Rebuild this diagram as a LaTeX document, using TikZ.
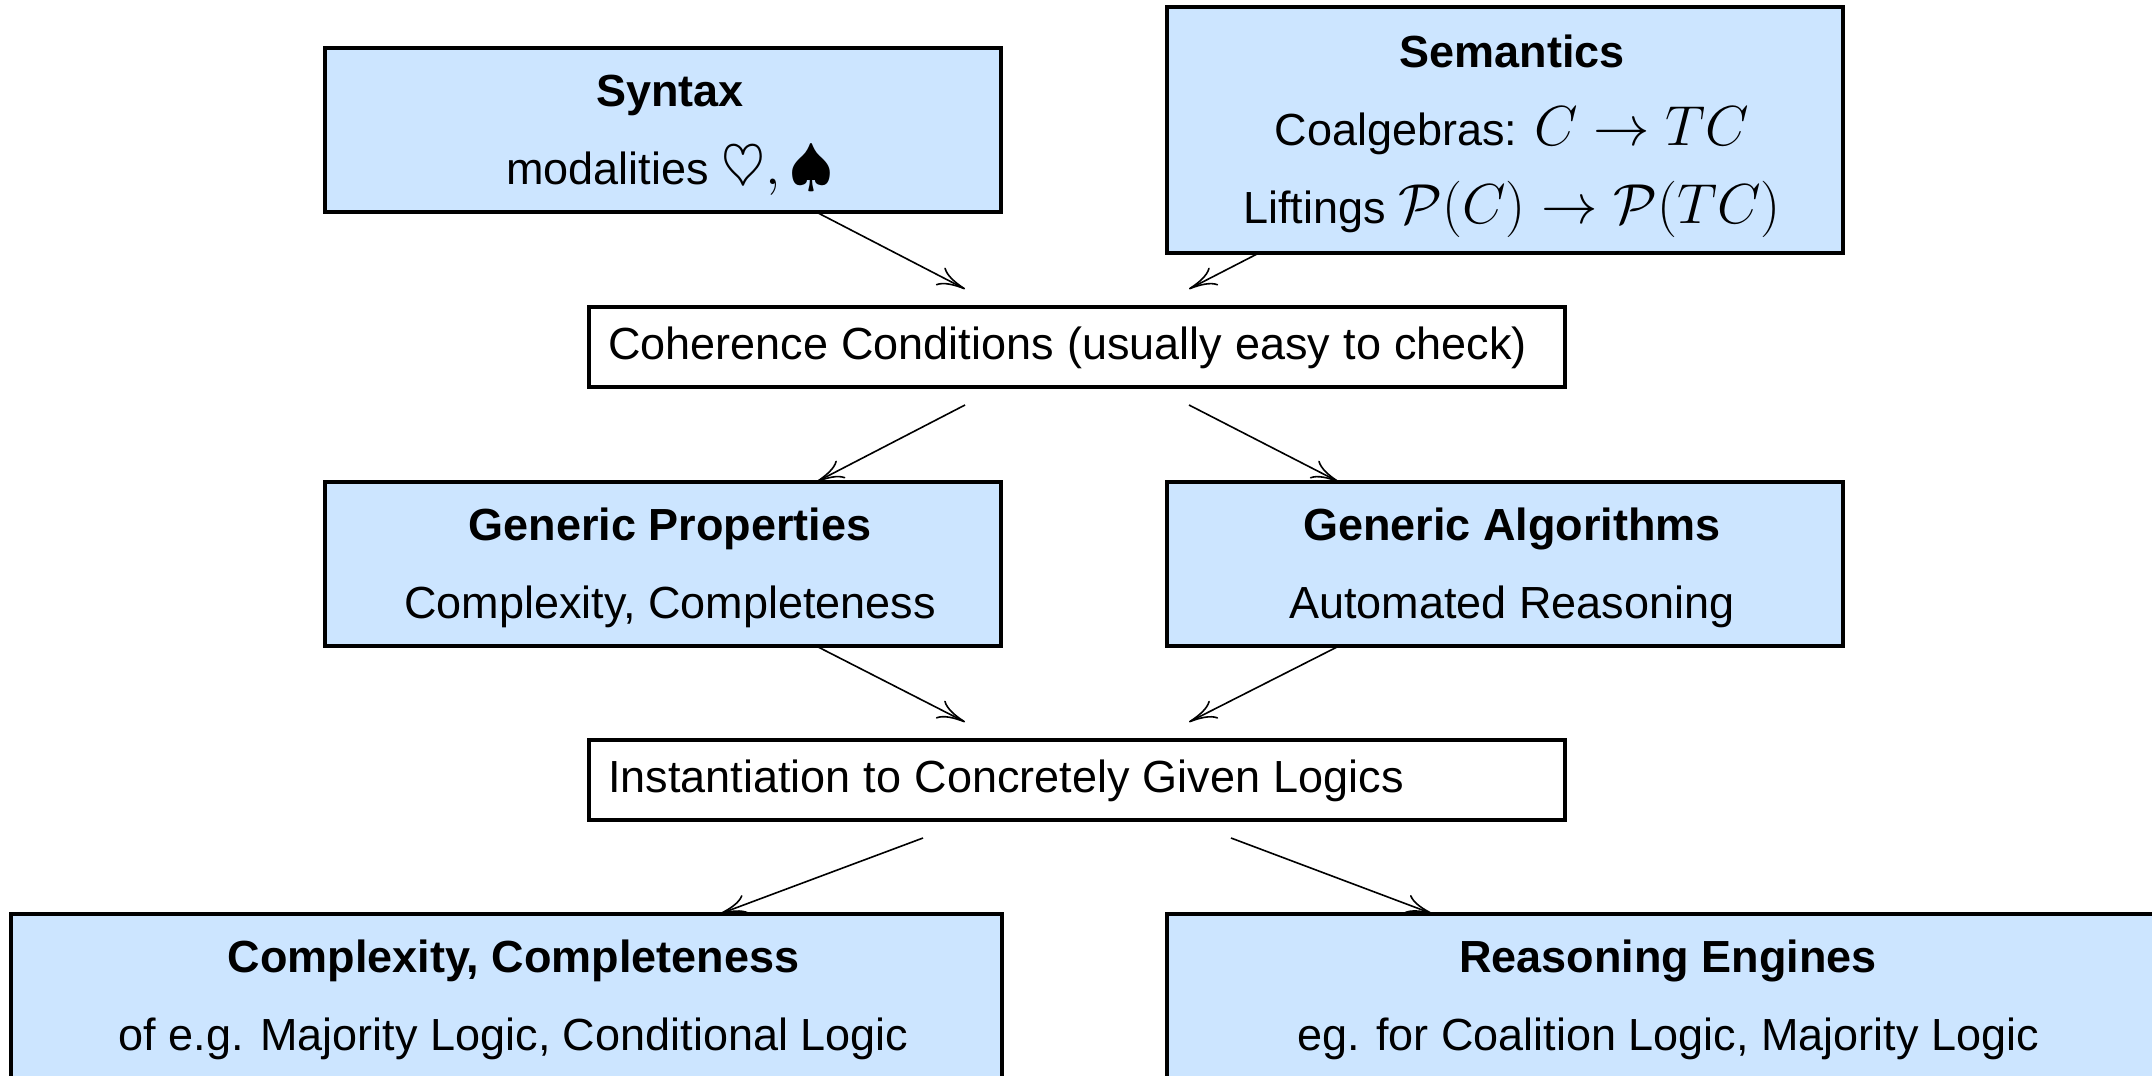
\documentclass[tikz,border=0pt]{standalone}
\usepackage{fix-cm}
\usepackage{fontspec}
\setmainfont{Liberation Sans}
\usetikzlibrary{arrows.meta}
\definecolor{boxblue}{HTML}{CCE5FF}
\newcommand{\boxlines}[1]{\hspace*{7pt}\begin{tabular}{@{}c@{}}#1\end{tabular}}
\newcommand{\stepline}[1]{\mbox{\spaceskip=6.6pt\relax\rule[-5pt]{0pt}{22pt}#1}}
\newcommand{\bigmath}[1]{{\fontsize{28.2}{39}\selectfont$#1$}}
\tikzset{
  boxbase/.style={draw=black, line width=2.2pt, outer sep=0pt, inner sep=0pt,
    font=\fontsize{22.5}{39}\selectfont},
  topicbox/.style={boxbase, fill=boxblue, anchor=north west, minimum width=338pt},
  stepbox/.style={boxbase, fill=white, align=left, anchor=north west, inner xsep=9.5pt,
    minimum height=40pt, text width=469pt},
  flow/.style={line width=.8pt, -{Computer Modern Rightarrow[length=14pt, width=10pt]}}
}
\begin{document}
\begin{tikzpicture}[x=.5pt, y=-.5pt]
        \useasboundingbox (0, 0) rectangle (2152, 1076);
        % node
        \node[topicbox, minimum height=82pt] (syntax) at (325, 48) {\boxlines{\textbf{Syntax}\\modalities \bigmath{\heartsuit, \spadesuit}}};
        \node[topicbox, minimum height=123pt] (semantics) at (1167, 7) {\boxlines{\textbf{Semantics}\\Coalgebras: \bigmath{C \to TC}\\Liftings \bigmath{\mathcal{P}(C) \to \mathcal{P}(TC)}}};
        \node[stepbox] (coherence) at (589, 307) {\stepline{Coherence Conditions (usually easy to check)}};
        \node[topicbox, minimum height=82pt] (genprop) at (325, 482) {\boxlines{\textbf{Generic Properties}\\Complexity, Completeness}};
        \node[topicbox, minimum height=82pt] (genalg) at (1167, 482) {\boxlines{\textbf{Generic Algorithms}\\Automated Reasoning}};
        \node[stepbox] (instant) at (589, 740) {\stepline{Instantiation to Concretely Given Logics}};
        \node[topicbox, minimum height=82pt, minimum width=495.5pt] (complexity) at (11, 914) {\boxlines{\textbf{Complexity, Completeness}\\of e.g. Majority Logic, Conditional Logic}};
        \node[topicbox, minimum height=82pt, minimum width=494pt] (engines) at (1167, 914) {\boxlines{\textbf{Reasoning Engines}\\eg. for Coalition Logic, Majority Logic}};
        % lines
        \draw[flow] ([xshift=76.6pt]syntax.south) -- ([xshift=-56pt, yshift=9pt]coherence.north);
        \draw[flow] ([xshift=-123pt]semantics.south) -- ([xshift=56pt, yshift=9pt]coherence.north);
        \draw[flow] ([xshift=-56pt, yshift=-9pt]coherence.south) -- ([xshift=76.6pt]genprop.north);
        \draw[flow] ([xshift=56pt, yshift=-9pt]coherence.south) -- ([xshift=-83pt]genalg.north);
        \draw[flow] ([xshift=76.6pt]genprop.south) -- ([xshift=-56pt, yshift=9pt]instant.north);
        \draw[flow] ([xshift=-83pt]genalg.south) -- ([xshift=56pt, yshift=9pt]instant.north);
        \draw[flow] ([xshift=-77pt, yshift=-9pt]instant.south) -- ([xshift=106.5pt]complexity.north);
        \draw[flow] ([xshift=77pt, yshift=-9pt]instant.south) -- ([xshift=-114pt]engines.north);
      \end{tikzpicture}
\end{document}
